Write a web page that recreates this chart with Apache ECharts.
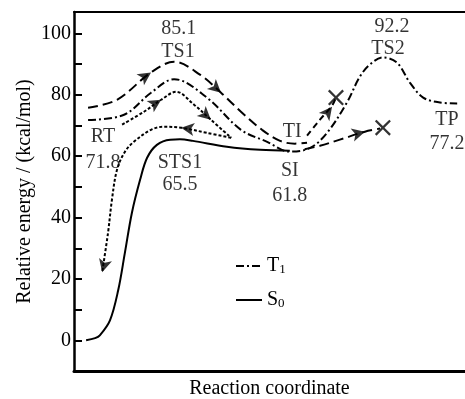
<!DOCTYPE html>
<html>
<head>
<meta charset="utf-8">
<script src="https://cdn.jsdelivr.net/npm/echarts@6/dist/echarts.min.js"></script>
<style>
  html, body { margin: 0; padding: 0; background: #fff; }
  #main { width: 465px; height: 399px; }
</style>
</head>
<body>
<div id="main"></div>
<script>
// y ticks and labels
const yTickValues = [0, 10, 20, 30, 40, 50, 60, 70, 80, 90, 100];
const yLabelValues = [0, 20, 40, 60, 80, 100];

// ground state S0 (solid)
const s0 = [[3.1, 0], [5.4, 0.7], [6.6, 1.6], [9.2, 6.5], [11.3, 16.3], [13.0, 28.4], [14.8, 41.5],
  [16.9, 52.3], [18.7, 59.5], [21.2, 63.7], [24.6, 65.4], [27.1, 65.5], [30.4, 65.0],
  [39.1, 63.1], [47.6, 62.1], [55.2, 61.8]];

// triplet T1 (dash-dot)
const t1 = [[3.6, 71.8], [12.8, 73.5], [19.7, 80.7], [25.6, 85.1], [34.0, 79.1], [42.7, 68.6],
  [49.4, 64.7], [55.2, 61.5], [60.4, 62.7], [64.7, 67.6], [69.8, 77.5], [73.1, 85.9],
  [75.7, 89.9], [79.0, 92.2], [82.6, 90.5], [85.9, 84.0], [89.3, 79.1], [93.6, 77.5], [98.0, 77.2]];

// long dashed path over TS1 down to TI
const longDash = [[3.6, 75.8], [11.0, 78.4], [19.7, 87.3], [25.6, 90.8], [32.2, 86.6], [37.6, 80.7],
  [42.7, 74.5], [48.1, 68.6], [52.7, 65.0], [56.5, 64.1], [59.6, 64.4]];
// long dashed from TI to the right cross
const longDash2 = [[59.0, 62.3], [62.9, 63.4], [68.0, 65.4], [74.4, 68.0], [78.3, 69.0]];
// short dashed from TI to the upper cross
const shortDash = [[59.6, 66.7], [62.9, 71.9], [66.0, 76.5], [67.0, 79.1]];

// dotted path: up over the barrier, then back and down
const dotOut = [[12.3, 70.3], [17.9, 74.5], [22.3, 78.4], [26.1, 81.0], [30.7, 76.8], [35.0, 71.9], [40.2, 66.0]];
const dotBack = [[40.2, 66.0], [34.0, 67.6], [27.4, 69.3], [23.0, 69.6], [19.7, 68.6], [15.3, 64.7],
  [13.0, 61.4], [11.0, 55.6], [9.7, 45.8], [8.7, 35.0], [7.2, 22.2]];

// arrowheads [x, y, rotation]
const arrows = [[19.7, 87.3, -56], [37.6, 80.7, -132], [22.3, 78.4, -58], [35.0, 71.9, -132],
  [27.4, 69.3, 82], [7.2, 22.2, 165], [66.0, 76.1, -38], [74.4, 68.0, -75]];
const crosses = [[67.0, 79.1], [79.0, 69.3]];

// annotations [x, y, text]
const notes = [[26.8, 101.6, '85.1'], [26.6, 94.1, 'TS1'], [81.3, 102.3, '92.2'], [80.3, 95.1, 'TS2'],
  [7.4, 66.3, 'RT'], [7.4, 57.8, '71.8'], [27.1, 57.8, 'STS1'], [27.1, 50.7, '65.5'],
  [55.8, 68.0, 'TI'], [55.2, 55.2, 'SI'], [55.2, 47.1, '61.8'], [95.4, 71.9, 'TP'], [95.4, 64.0, '77.2']];

const FONT = 'Liberation Serif';
const FS = 20;
const chart = echarts.init(document.getElementById('main'));

const lineSeries = (name, data, type, width) => ({
  name: name,
  type: 'line',
  data: data,
  smooth: 0.35,
  symbol: 'none',
  lineStyle: { color: '#000', width: width || 2, type: type },
  itemStyle: { color: '#000' },
  z: 3
});

const crossPath = 'path://M0,1L1,0L5,4L9,0L10,1L6,5L10,9L9,10L5,6L1,10L0,9L4,5Z';

chart.setOption({
  animation: false,
  textStyle: { fontFamily: FONT, color: '#000' },
  grid: { left: 74, right: 0, top: 12, bottom: 28, outerBoundsMode: 'none' },
  legend: {
    left: 230,
    top: 251,
    orient: 'vertical',
    itemWidth: 26,
    itemHeight: 14,
    itemGap: 14,
    data: ['T1', 'S0'],
    itemStyle: { opacity: 0 },
    formatter: n => '{m|' + n[0] + '}{s|' + n[1] + '}',
    textStyle: {
      fontFamily: FONT,
      color: '#000',
      rich: {
        m: { fontFamily: FONT, fontSize: FS, color: '#000' },
        s: { fontFamily: FONT, fontSize: 13, lineHeight: 8, verticalAlign: 'bottom', color: '#000' }
      }
    }
  },
  xAxis: [{
    type: 'value',
    min: 0,
    max: 100,
    name: 'Reaction coordinate',
    nameLocation: 'middle',
    nameGap: 8,
    nameMoveOverlap: false,
    nameTextStyle: { fontFamily: FONT, fontSize: FS, color: '#000' },
    axisLine: { onZero: false, lineStyle: { color: '#000', width: 3 } },
    axisTick: { show: false },
    axisLabel: { show: false },
    splitLine: { show: false }
  }, {
    type: 'value',
    position: 'top',
    min: 0,
    max: 100,
    axisLine: { show: true, onZero: false, lineStyle: { color: '#000', width: 2 } },
    axisTick: { show: false },
    axisLabel: { show: false },
    splitLine: { show: false }
  }],
  yAxis: {
    type: 'value',
    min: -10,
    max: 107,
    name: 'Relative energy / (kcal/mol)',
    nameLocation: 'middle',
    nameRotate: 90,
    nameGap: 39,
    nameMoveOverlap: false,
    nameTextStyle: { fontFamily: FONT, fontSize: FS, color: '#000' },
    axisLine: { show: true, onZero: false, lineStyle: { color: '#000', width: 2.5 } },
    axisTick: { show: true, inside: true, length: 8, customValues: yTickValues, lineStyle: { color: '#000', width: 2 } },
    axisLabel: { customValues: yLabelValues, fontFamily: FONT, fontSize: FS, color: '#000', margin: 3 },
    splitLine: { show: false }
  },
  series: [
    lineSeries('S0', s0, 'solid'),
    lineSeries('T1', t1, [8, 3, 2, 3]),
    lineSeries('longDash', longDash, [10, 5]),
    lineSeries('longDash2', longDash2, [10, 5]),
    lineSeries('shortDash', shortDash, [6, 4]),
    lineSeries('dotOut', dotOut, [3, 2], 2),
    lineSeries('dotBack', dotBack, [3, 2], 2),
    {
      type: 'scatter',
      data: arrows.map(a => ({ value: [a[0], a[1]], symbolRotate: a[2] })),
      symbol: 'arrow',
      symbolSize: [10, 13],
      itemStyle: { color: '#000' },
      z: 5
    },
    {
      type: 'scatter',
      data: crosses,
      symbol: crossPath,
      symbolSize: 16,
      itemStyle: { color: '#000' },
      z: 5
    },
    {
      type: 'scatter',
      data: notes.map(n => ({ value: [n[0], n[1]], name: n[2] })),
      symbolSize: 0,
      label: {
        show: true,
        position: 'inside',
        formatter: '{b}',
        fontFamily: FONT,
        fontSize: FS,
        color: '#000'
      },
      z: 6
    }
  ]
});
</script>
</body>
</html>
